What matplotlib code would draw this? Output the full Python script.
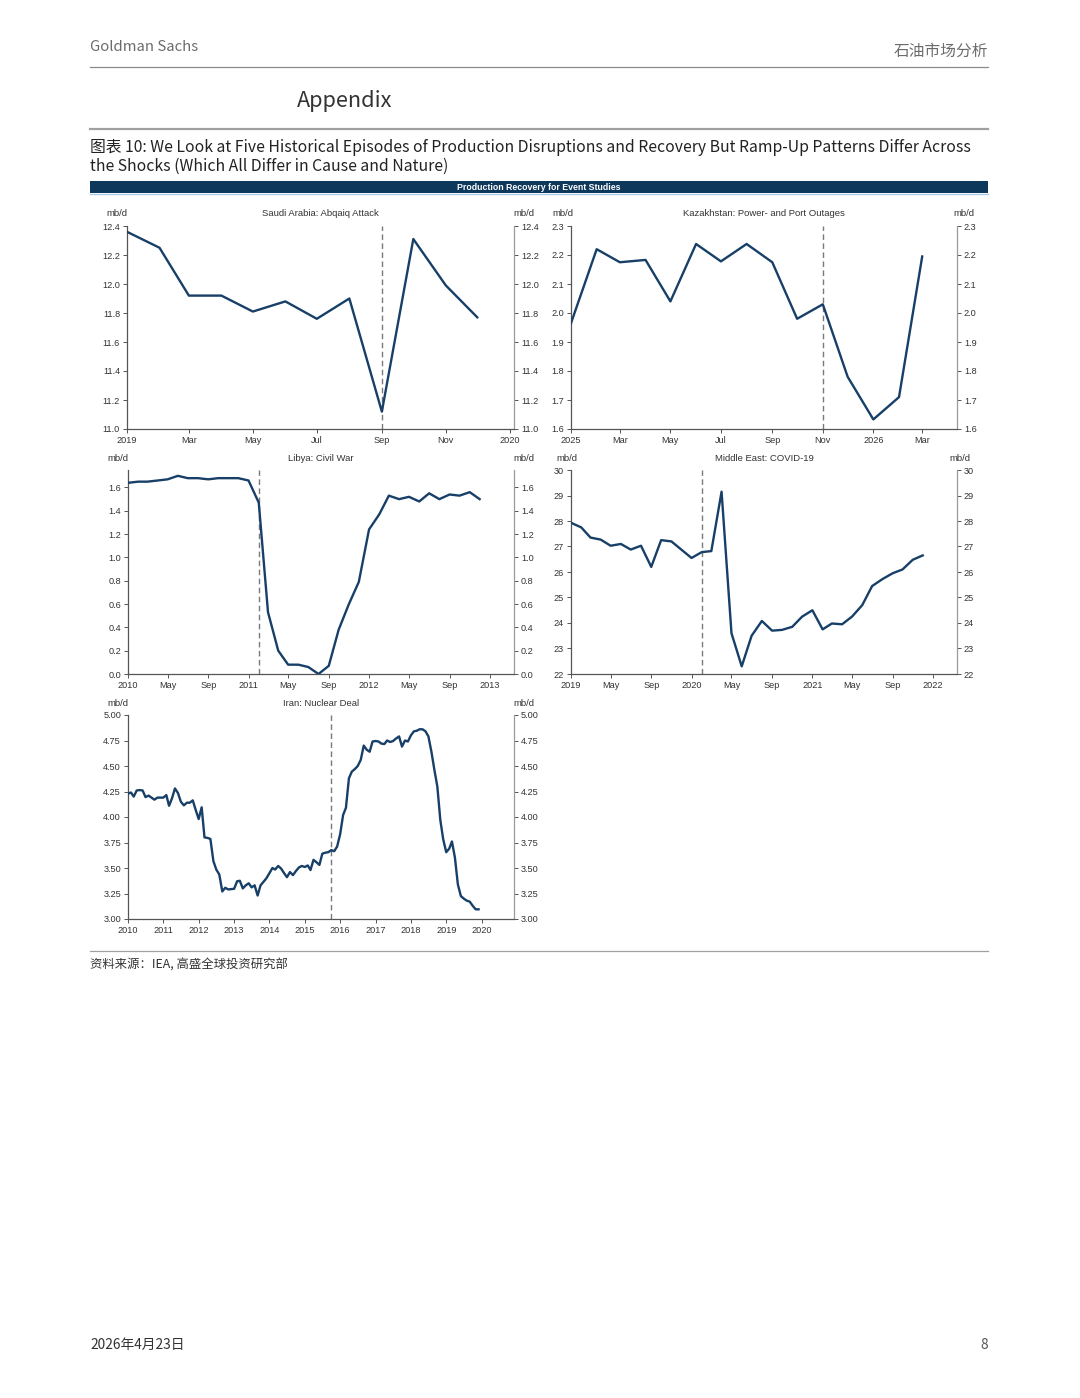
import matplotlib
matplotlib.use("Agg")
import matplotlib.pyplot as plt
import matplotlib.dates as mdates
from matplotlib.ticker import FuncFormatter
from matplotlib.patches import Rectangle
from matplotlib.lines import Line2D
import pandas as pd
import numpy as np

W, H = 1080, 1398

# ---------------- data ----------------
saudi_start = "2019-01-01"
saudi_vals = [12.36, 12.25, 11.92, 11.92, 11.81, 11.88, 11.76, 11.90, 11.12, 12.31, 11.99, 11.77]
saudi_event = "2019-09-01"

kaz_start = "2025-01-01"
kaz_vals = [1.965, 2.22, 2.175, 2.183, 2.04, 2.238, 2.178, 2.238, 2.175, 1.98, 2.03,
            1.78, 1.633, 1.71, 2.195]
kaz_event = "2025-11-01"

libya_start = "2010-01-01"
libya_vals = [1.64, 1.65, 1.65, 1.66, 1.67, 1.70, 1.68, 1.68, 1.67, 1.68, 1.68, 1.68,
              1.66, 1.47, 0.53, 0.20, 0.08, 0.08, 0.06, 0.00, 0.07, 0.38, 0.60, 0.79,
              1.24, 1.37, 1.53, 1.50, 1.52, 1.48, 1.55, 1.50, 1.54, 1.53, 1.56, 1.50]
libya_event = "2011-02-01"

me_start = "2019-01-01"
me_vals = [27.93, 27.75, 27.35, 27.27, 27.03, 27.10, 26.88, 27.03, 26.20, 27.25, 27.20, 26.88,
           26.55, 26.78, 26.82, 29.15, 23.60, 22.30, 23.50, 24.08, 23.70, 23.73, 23.85, 24.25,
           24.50, 23.75, 23.98, 23.95, 24.25, 24.70, 25.45, 25.72, 25.95, 26.10, 26.48, 26.65]
me_event = "2020-02-01"

iran_start = "2010-01-01"
iran_vals = [4.23, 4.24, 4.20, 4.26, 4.264, 4.26, 4.195, 4.21, 4.19, 4.17, 4.19, 4.19,
             4.19, 4.215, 4.11, 4.185, 4.28, 4.235, 4.15, 4.114, 4.14, 4.14, 4.163, 4.07,
             3.98, 4.095, 3.80, 3.795, 3.785, 3.567, 3.485, 3.436, 3.27, 3.306, 3.29, 3.293,
             3.296, 3.37, 3.375, 3.30, 3.33, 3.35, 3.31, 3.33, 3.23, 3.33, 3.365, 3.40,
             3.45, 3.50, 3.485, 3.52, 3.495, 3.45, 3.41, 3.46, 3.43, 3.47, 3.505, 3.52,
             3.51, 3.525, 3.48, 3.58, 3.557, 3.53, 3.64, 3.65, 3.655, 3.675, 3.665, 3.71,
             3.83, 4.02, 4.09, 4.38, 4.445, 4.47, 4.50, 4.56, 4.70, 4.66, 4.64, 4.74,
             4.745, 4.74, 4.72, 4.715, 4.75, 4.735, 4.745, 4.77, 4.79, 4.69, 4.75, 4.74,
             4.80, 4.84, 4.845, 4.86, 4.86, 4.84, 4.79, 4.64, 4.46, 4.30, 3.97, 3.78,
             3.655, 3.69, 3.76, 3.60, 3.34, 3.225, 3.20, 3.18, 3.17, 3.13, 3.095, 3.095]
iran_event = "2015-10-01"

titles = ["Saudi Arabia: Abqaiq Attack", "Kazakhstan: Power- and Port Outages",
          "Libya: Civil War", "Middle East: COVID-19", "Iran: Nuclear Deal"]

# ---------------- style ----------------
LINE_C = "#173f67"
TXT_C = "#333333"
CHART_FONT = ["Liberation Sans", "DejaVu Sans"]
CJK_FONT = ["Noto Sans CJK SC", "DejaVu Sans"]

fig = plt.figure(figsize=(W / 100, H / 100), dpi=100)
fig.patch.set_facecolor("white")


def rect(l, r, t, b):
    return [l / W, 1 - b / H, (r - l) / W, (b - t) / H]


def fx(x):
    return x / W


def fy(y):
    return 1 - y / H


def month_fmt(x, pos=None):
    d = mdates.num2date(x)
    if d.month == 1:
        return str(d.year)
    return d.strftime("%b")


panels = [
    dict(vals=saudi_vals, start=saudi_start, event=saudi_event, title=titles[0],
         box=(127, 514, 226, 429), ylim=(11.0, 12.4), ystep=0.2, yfmt="{:.1f}",
         xlim=("2019-01-01", "2020-01-05"), months=[1, 3, 5, 7, 9, 11], mbd=(-10, 10)),
    dict(vals=kaz_vals, start=kaz_start, event=kaz_event, title=titles[1],
         box=(571, 957, 226, 429), ylim=(1.6, 2.3), ystep=0.1, yfmt="{:.1f}",
         xlim=("2025-01-01", "2026-04-12"), months=[1, 3, 5, 7, 9, 11], mbd=(-8, 7)),
    dict(vals=libya_vals, start=libya_start, event=libya_event, title=titles[2],
         box=(128, 514, 470, 674), ylim=(0.0, 1.75), ystep=0.2, yfmt="{:.1f}",
         xlim=("2010-01-01", "2013-03-15"), months=[1, 5, 9], mbd=(-10, 10), ymax_tick=1.6),
    dict(vals=me_vals, start=me_start, event=me_event, title=titles[3],
         box=(571, 957, 470, 674), ylim=(22, 30), ystep=1, yfmt="{:.0f}",
         xlim=("2019-01-01", "2022-03-15"), months=[1, 5, 9], mbd=(-4, 3)),
    dict(vals=iran_vals, start=iran_start, event=iran_event, title=titles[4],
         box=(128, 514, 715, 919), ylim=(3.0, 5.0), ystep=0.25, yfmt="{:.2f}",
         xlim=("2010-01-01", "2020-12-01"), months=None, mbd=(-10, 10)),
]

for p in panels:
    l, r, t, b = p["box"]
    ax = fig.add_axes(rect(l, r, t, b))
    dates = pd.date_range(p["start"], periods=len(p["vals"]), freq="MS")
    ax.plot(dates, p["vals"], color=LINE_C, lw=1.7, solid_joinstyle="round", zorder=3)
    ax.axvline(pd.Timestamp(p["event"]), color="#7a7a7a", lw=1.0, ls=(0, (4, 2.5)), zorder=2)
    ax.set_xlim(pd.Timestamp(p["xlim"][0]), pd.Timestamp(p["xlim"][1]))
    ax.set_ylim(*p["ylim"])
    ymax_tick = p.get("ymax_tick", p["ylim"][1])
    yt = np.arange(p["ylim"][0], ymax_tick + 1e-9, p["ystep"])
    ax.set_yticks(yt)
    ax.set_yticklabels([p["yfmt"].format(v) for v in yt])
    if p["months"] is None:
        ax.xaxis.set_major_locator(mdates.YearLocator())
    else:
        ax.xaxis.set_major_locator(mdates.MonthLocator(bymonth=p["months"]))
    ax.xaxis.set_major_formatter(FuncFormatter(month_fmt))
    ax.spines["top"].set_visible(False)
    ax.spines["left"].set_color("#555555")
    ax.spines["bottom"].set_color("#555555")
    ax.spines["right"].set_color("#9a9a9a")
    for s in ["left", "bottom", "right"]:
        ax.spines[s].set_linewidth(0.9)
    ax.tick_params(axis="y", which="both", left=True, right=True, labelleft=True,
                   labelright=True, direction="out", length=3, width=0.7,
                   labelsize=6.6, colors="#555555", labelcolor=TXT_C, pad=2)
    ax.tick_params(axis="x", direction="out", length=3, width=0.7, labelsize=6.6,
                   colors="#555555", labelcolor=TXT_C, pad=2)
    for lab in ax.get_xticklabels() + ax.get_yticklabels():
        lab.set_family(CHART_FONT)
    hpx = b - t
    ty = 1 + 12 / hpx
    ax.text(0.5, ty, p["title"], transform=ax.transAxes, ha="center", va="center",
            fontsize=6.8, color=TXT_C, family=CHART_FONT)
    wpx = r - l
    ax.text(p["mbd"][0] / wpx, ty, "mb/d", transform=ax.transAxes, ha="center", va="center",
            fontsize=6.8, color=TXT_C, family=CHART_FONT)
    ax.text(1 + p["mbd"][1] / wpx, ty, "mb/d", transform=ax.transAxes, ha="center", va="center",
            fontsize=6.8, color=TXT_C, family=CHART_FONT)
    ax.set_facecolor("none")

# ---------------- page furniture ----------------
fig.text(fx(90), fy(47), "Goldman Sachs", ha="left", va="center", fontsize=10.7,
         color="#6b6b6b", family=CJK_FONT)
fig.text(fx(988), fy(51), "石油市场分析", ha="right", va="center", fontsize=11.3,
         color="#6b6b6b", family=CJK_FONT)
fig.add_artist(Line2D([fx(90), fx(988)], [fy(67), fy(67)], color="#8a8a8a", lw=0.9))
fig.text(fx(297), fy(101), "Appendix", ha="left", va="center", fontsize=15.6,
         color="#333333", family=CJK_FONT)
fig.add_artist(Line2D([fx(90), fx(988)], [fy(128.5), fy(128.5)], color="#a0a0a0", lw=1.6))
fig.text(fx(90), fy(147), "图表 10: We Look at Five Historical Episodes of Production Disruptions and Recovery But Ramp-Up Patterns Differ Across",
         ha="left", va="center", fontsize=11.35, color="#222222", family=CJK_FONT)
fig.text(fx(90), fy(166), "the Shocks (Which All Differ in Cause and Nature)",
         ha="left", va="center", fontsize=11.35, color="#222222", family=CJK_FONT)
fig.add_artist(Rectangle((fx(90), fy(193)), fx(988) - fx(90), fy(181) - fy(193),
                         transform=fig.transFigure, facecolor="#0e375c", edgecolor="none"))
fig.add_artist(Line2D([fx(90), fx(988)], [fy(193.5), fy(193.5)], color="#a9cbe8", lw=1.0))
fig.text(fx(539), fy(187.5), "Production Recovery for Event Studies", ha="center", va="center",
         fontsize=6.3, color="white", weight="bold", family=CHART_FONT)

fig.add_artist(Line2D([fx(90), fx(988)], [fy(951), fy(951)], color="#a0a0a0", lw=0.9))
fig.text(fx(90), fy(965), "资料来源：IEA, 高盛全球投资研究部", ha="left", va="center",
         fontsize=8.9, color="#333333", family=CJK_FONT)
fig.text(fx(90), fy(1345), "2026年4月23日", ha="left", va="center", fontsize=9.9,
         color="#333333", family=CJK_FONT)
fig.text(fx(988), fy(1345), "8", ha="right", va="center", fontsize=9.9,
         color="#555555", family=CJK_FONT)

fig.savefig("out.png", dpi=100, facecolor="white")
